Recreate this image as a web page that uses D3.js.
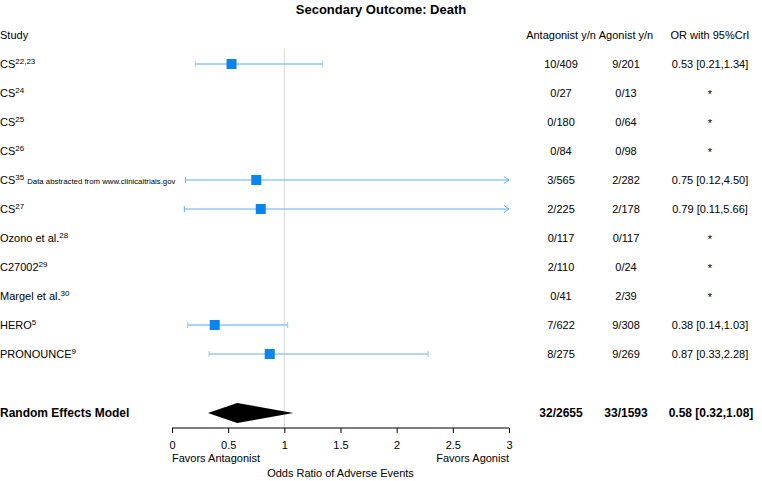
<!DOCTYPE html>
<html>
<head>
<meta charset="utf-8">
<script src="https://cdn.jsdelivr.net/npm/d3@7"></script>
<style>
  body { margin: 0; background: #fff; }
  svg { font-family: "Liberation Sans", Arial, sans-serif; }
</style>
</head>
<body>
<div id="chart"></div>
<script>
// study rows, top to bottom
const studies = ["CS", "CS", "CS", "CS", "CS", "CS", "Ozono et al.", "C27002", "Margel et al.", "HERO", "PRONOUNCE"]
const refs = ["22,23", "24", "25", "26", "35", "27", "28", "29", "30", "5", "9"]
const notes = ["", "", "", "", "Data abstracted from www.clinicaltrials.gov", "", "", "", "", "", ""]
const antagonist = ["10/409", "0/27", "0/180", "0/84", "3/565", "2/225", "0/117", "2/110", "0/41", "7/622", "8/275"]
const agonist = ["9/201", "0/13", "0/64", "0/98", "2/282", "2/178", "0/117", "0/24", "2/39", "9/308", "9/269"]
const or = [0.53, null, null, null, 0.75, 0.79, null, null, null, 0.38, 0.87]
const lo = [0.21, null, null, null, 0.12, 0.11, null, null, null, 0.14, 0.33]
const hi = [1.34, null, null, null, 4.50, 5.66, null, null, null, 1.03, 2.28]

// pooled estimate
const pooled = { label: "Random Effects Model", antagonist: "32/2655", agonist: "33/1593", or: 0.58, lo: 0.32, hi: 1.08 }

const xTicks = [0, 0.5, 1, 1.5, 2, 2.5, 3]

const width = 762, height = 481

const svg = d3.select("#chart").append("svg")
  .attr("width", width)
  .attr("height", height)

const x = d3.scaleLinear().domain([0, 3]).range([172, 509])
const y = d3.scaleBand().domain(d3.range(studies.length)).range([49.5, 368.5])
const rowY = (i) => y(i) + y.bandwidth() / 2
const pooledY = 413
const axisY = 428

const fmt = d3.format(".2f")

svg.append("text")
  .attr("x", 381).attr("y", 14)
  .attr("text-anchor", "middle")
  .style("font-weight", "bold").style("font-size", "13px")
  .text("Secondary Outcome: Death")

// column headers
const headY = 39
svg.append("text").attr("x", 0).attr("y", headY).style("font-size", "11px").text("Study")
const cols = [
  { x: 561, label: "Antagonist y/n" },
  { x: 626, label: "Agonist y/n" },
  { x: 710, label: "OR with 95%CrI" },
]
cols.forEach((c) => {
  svg.append("text").attr("x", c.x).attr("y", headY)
    .attr("text-anchor", "middle").style("font-size", "11px").text(c.label)
})

// null line
svg.append("line")
  .attr("x1", x(1)).attr("x2", x(1))
  .attr("y1", 49).attr("y2", axisY)
  .attr("stroke", "#d8d8d8").attr("stroke-width", 1)

// study labels
studies.forEach((s, i) => {
  const t = svg.append("text").attr("x", 0).attr("y", rowY(i) + 4).style("font-size", "11px")
  t.append("tspan").text(s)
  t.append("tspan").attr("dy", -4).style("font-size", "8px").text(refs[i])
  if (notes[i]) t.append("tspan").attr("dy", 4).attr("dx", 3).style("font-size", "7.8px").text(notes[i])
})

// table values
studies.forEach((s, i) => {
  const cy = rowY(i) + 4
  svg.append("text").attr("x", cols[0].x).attr("y", cy).attr("text-anchor", "middle").style("font-size", "11px").text(antagonist[i])
  svg.append("text").attr("x", cols[1].x).attr("y", cy).attr("text-anchor", "middle").style("font-size", "11px").text(agonist[i])
  const orText = or[i] == null ? "*" : `${fmt(or[i])} [${fmt(lo[i])},${fmt(hi[i])}]`
  svg.append("text").attr("x", cols[2].x).attr("y", or[i] == null ? cy + 1 : cy).attr("text-anchor", "middle")
    .style("font-size", "11px").text(orText)
})

// CI lines and squares
const lineStyle = [
  { c: "#a9d3f7", w: 2.2 }, null, null, null,
  { c: "#5cb0fb", w: 1.2 }, { c: "#5cb0fb", w: 1.2 },
  null, null, null,
  { c: "#8cc4f7", w: 1.5 }, { c: "#94c8f7", w: 1.6 },
]
const g = svg.append("g")
studies.forEach((s, i) => {
  if (or[i] == null) return
  const cy = rowY(i)
  const st = lineStyle[i]
  const x1 = x(lo[i])
  const clipped = hi[i] > 3
  const x2 = clipped ? x(3) : x(hi[i])
  g.append("line").attr("x1", x1).attr("x2", x2).attr("y1", cy).attr("y2", cy)
    .attr("stroke", st.c).attr("stroke-width", st.w)
  g.append("line").attr("x1", x1).attr("x2", x1).attr("y1", cy - 3).attr("y2", cy + 3)
    .attr("stroke", st.c).attr("stroke-width", 1)
  if (clipped) {
    g.append("path").attr("d", `M${x2 - 5},${cy - 3.5}L${x2},${cy}L${x2 - 5},${cy + 3.5}`)
      .attr("fill", "none").attr("stroke", st.c).attr("stroke-width", 1)
  } else {
    g.append("line").attr("x1", x2).attr("x2", x2).attr("y1", cy - 3).attr("y2", cy + 3)
      .attr("stroke", st.c).attr("stroke-width", 1)
  }
  g.append("rect").attr("x", x(or[i]) - 5).attr("y", cy - 5).attr("width", 10).attr("height", 10)
    .attr("fill", "#0a84ee")
})

// pooled row
const bold = (sel) => sel.style("font-size", "12px").style("font-weight", "bold")
svg.append("text").attr("x", 0).attr("y", pooledY + 4).call(bold).text(pooled.label)
svg.append("text").attr("x", cols[0].x).attr("y", pooledY + 4).attr("text-anchor", "middle").call(bold).text(pooled.antagonist)
svg.append("text").attr("x", cols[1].x).attr("y", pooledY + 4).attr("text-anchor", "middle").call(bold).text(pooled.agonist)
svg.append("text").attr("x", cols[2].x + 1).attr("y", pooledY + 4).attr("text-anchor", "middle").call(bold)
  .text(`${fmt(pooled.or)} [${fmt(pooled.lo)},${fmt(pooled.hi)}]`)
svg.append("path")
  .attr("d", `M${x(pooled.lo)},${pooledY}L${x(pooled.or)},${pooledY - 10}L${x(pooled.hi)},${pooledY}L${x(pooled.or)},${pooledY + 10}Z`)
  .attr("fill", "#000")

// axis
const axis = d3.axisBottom(x).tickValues(xTicks).tickFormat(d3.format("")).tickSize(5).tickPadding(8)
const ax = svg.append("g").attr("transform", `translate(0,${axisY})`).call(axis)
ax.select(".domain").attr("d", `M${x(0)},0H${x(3)}`)
ax.selectAll("text").style("font-size", "11px").style("font-family", "Liberation Sans, Arial, sans-serif").attr("fill", "#000")

svg.append("text").attr("x", x(0)).attr("y", 462).style("font-size", "11px").text("Favors Antagonist")
svg.append("text").attr("x", x(3)).attr("y", 462).attr("text-anchor", "end").style("font-size", "11px").text("Favors Agonist")
svg.append("text").attr("x", x(1.5)).attr("y", 477).attr("text-anchor", "middle").style("font-size", "11px").text("Odds Ratio of Adverse Events")
</script>
</body>
</html>
